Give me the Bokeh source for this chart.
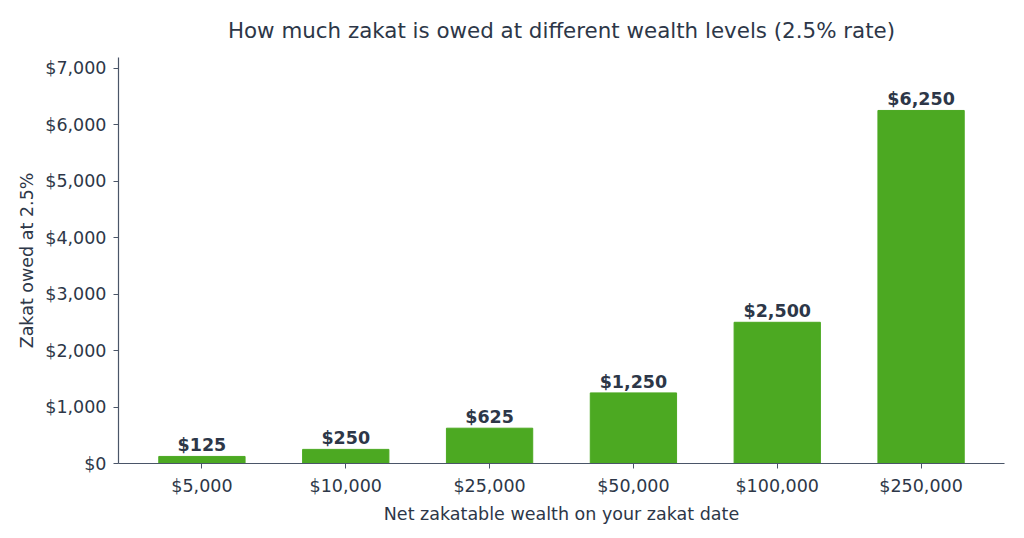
from bokeh.plotting import figure
from bokeh.models import ColumnDataSource, Range1d, FixedTicker, NumeralTickFormatter, LabelSet
from bokeh.core.properties import value
from bokeh.embed import file_html
from bokeh.resources import INLINE

categories = ["$5,000", "$10,000", "$25,000", "$50,000", "$100,000", "$250,000"]
zakat = [125, 250, 625, 1250, 2500, 6250]
bar_labels = ["$125", "$250", "$625", "$1,250", "$2,500", "$6,250"]
y_ticks = [0, 1000, 2000, 3000, 4000, 5000, 6000, 7000]

TEXT = "#2d3748"
AXIS = "#4a5568"
GREEN = "#4ca922"
FONT = "DejaVu Sans"

xs = list(range(len(categories)))
src = ColumnDataSource(dict(x=xs, top=zakat, label=bar_labels))

p = figure(width=1024, height=538, output_backend="svg", toolbar_location=None,
           x_range=Range1d(-0.58, len(categories) - 1 + 0.58),
           y_range=Range1d(0, max(zakat) * 1.15),
           title="How much zakat is owed at different wealth levels (2.5% rate)",
           min_border_left=118, min_border_right=20, min_border_bottom=75, min_border_top=18)

p.vbar(x="x", top="top", width=0.6, bottom=0, color=GREEN, source=src)
p.add_layout(LabelSet(x="x", y="top", text="label", source=src, text_align="center",
                      text_baseline="bottom", y_offset=1, text_font=value(FONT),
                      text_font_size=value("17.5px"), text_font_style=value("bold"),
                      text_color=value(TEXT)))

p.title.align = "center"
p.title.text_font = FONT
p.title.text_font_size = "21.4px"
p.title.text_font_style = "normal"
p.title.text_color = TEXT
p.title.standoff = 12
p.title.padding = 9

p.xaxis.ticker = FixedTicker(ticks=xs)
p.xaxis.major_label_overrides = {i: c for i, c in enumerate(categories)}
p.yaxis.ticker = FixedTicker(ticks=y_ticks)
p.yaxis.formatter = NumeralTickFormatter(format="$0,0")
p.xaxis.axis_label = "Net zakatable wealth on your zakat date"
p.yaxis.axis_label = "Zakat owed at 2.5%"

for ax in (p.xaxis, p.yaxis):
    ax.axis_line_color = AXIS
    ax.axis_line_width = 1.2
    ax.major_tick_line_color = AXIS
    ax.major_tick_out = 5
    ax.major_tick_in = 0
    ax.minor_tick_line_color = None
    ax.major_label_text_font = FONT
    ax.major_label_text_font_size = "17.5px"
    ax.major_label_text_color = TEXT
    ax.major_label_standoff = 7
    ax.axis_label_text_font = FONT
    ax.axis_label_text_font_size = "17.5px"
    ax.axis_label_text_font_style = "normal"
    ax.axis_label_text_color = TEXT

p.xgrid.grid_line_color = None
p.ygrid.grid_line_color = None
p.outline_line_color = None

open("out.html", "w").write(file_html(p, INLINE))
